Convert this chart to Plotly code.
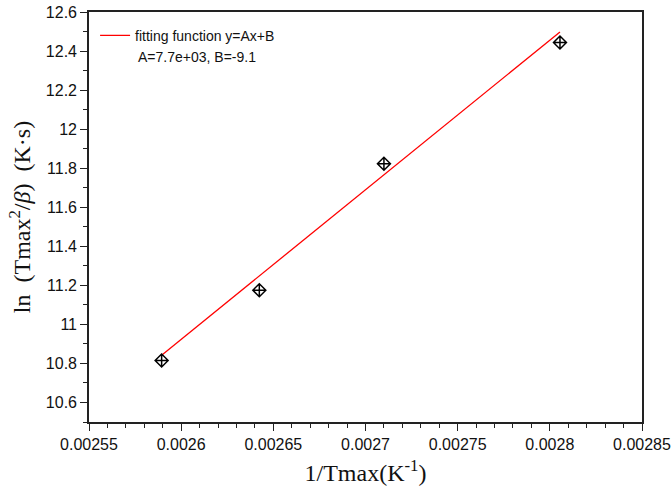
import plotly.graph_objects as go

# Data
inv_tmax = [0.0025894, 0.0026424, 0.0027100, 0.0028055]
ln_val = [10.815, 11.175, 11.823, 12.444]

# Fitted line endpoints
fit_x = [0.0025894, 0.0028055]
fit_y = [10.842, 12.498]

fit_label = "fitting function y=Ax+B"
fit_params = "A=7.7e+03, B=-9.1"

x_ticks = [0.00255, 0.0026, 0.00265, 0.0027, 0.00275, 0.0028, 0.00285]
x_ticktext = ["0.00255", "0.0026", "0.00265", "0.0027", "0.00275", "0.0028", "0.00285"]
y_ticks = [10.6, 10.8, 11, 11.2, 11.4, 11.6, 11.8, 12, 12.2, 12.4, 12.6]
y_ticktext = ["10.6", "10.8", "11", "11.2", "11.4", "11.6", "11.8", "12", "12.2", "12.4", "12.6"]

fig = go.Figure()
fig.add_trace(go.Scatter(
    x=fit_x, y=fit_y, mode="lines", name=fit_label,
    line=dict(color="#ff0000", width=1.3), showlegend=True,
))
fig.add_trace(go.Scatter(
    x=inv_tmax, y=ln_val, mode="markers", showlegend=False,
    marker=dict(symbol="diamond-cross-open", size=10, color="black",
                line=dict(color="black", width=1.5)),
))

axis_common = dict(
    showgrid=False, zeroline=False, showline=True, linecolor="#222222",
    linewidth=1.6, mirror=True, ticks="outside", ticklen=7, tickwidth=1.3,
    tickcolor="#222222", automargin=False,
    tickfont=dict(family="Liberation Sans, Arial, sans-serif", size=16, color="#111111"),
)

fig.update_xaxes(
    range=[0.00255, 0.00285], tickvals=x_ticks, ticktext=x_ticktext,
    minor=dict(ticks="outside", ticklen=4, tickwidth=1.1, tickcolor="#222222", dtick=0.00001),
    title=dict(text="1/Tmax(K<sup>-1</sup>)",
               font=dict(family="Liberation Serif, Times New Roman, serif", size=24, color="#111111"),
               standoff=12),
    **axis_common,
)
fig.update_yaxes(
    range=[10.5, 12.6], tickvals=y_ticks, ticktext=y_ticktext,
    minor=dict(ticks="outside", ticklen=4, tickwidth=1.1, tickcolor="#222222", dtick=0.1),
    title=dict(text="ln\u2002(Tmax<sup>2</sup>/<i>β</i>)\u2002(K·s)",
               font=dict(family="Liberation Serif, Times New Roman, serif", size=24, color="#111111"),
               standoff=8),
    **axis_common,
)

fig.add_annotation(
    x=0.085, y=0.891, xref="paper", yref="paper", xanchor="left", yanchor="middle",
    text=fit_params, showarrow=False,
    font=dict(family="Liberation Sans, Arial, sans-serif", size=14, color="#111111"),
)

fig.update_layout(
    width=672, height=496,
    margin=dict(l=89, r=30, t=12, b=74, autoexpand=False),
    paper_bgcolor="white", plot_bgcolor="white",
    legend=dict(x=0.011, y=0.981, xanchor="left", yanchor="top",
                bgcolor="rgba(0,0,0,0)",
                font=dict(family="Liberation Sans, Arial, sans-serif", size=14, color="#111111")),
)

fig.write_html("out.html", config={"displayModeBar": False},
               post_script="document.body.style.margin='0';document.body.style.overflow='hidden';")
